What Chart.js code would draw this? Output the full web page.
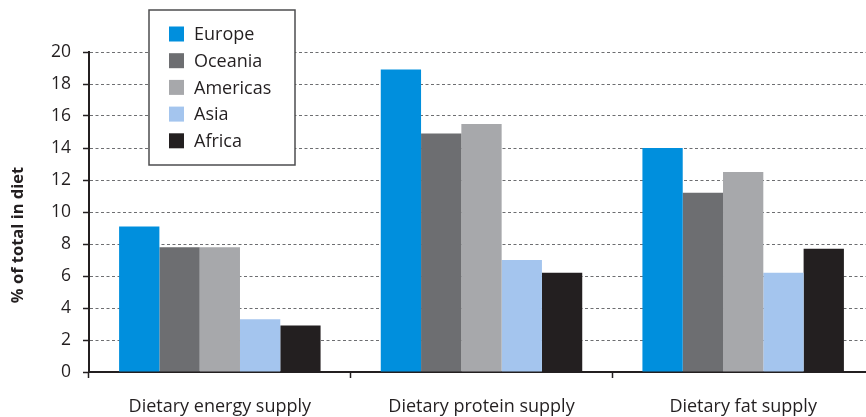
<!DOCTYPE html>
<html>
<head>
<meta charset="utf-8">
<script src="https://cdn.jsdelivr.net/npm/chart.js@4"></script>
<style>
html, body { margin: 0; padding: 0; background: #fff; overflow: hidden; }
#wrap { width: 876px; height: 417px; }
</style>
</head>
<body>
<div id="wrap"><canvas id="dietChart"></canvas></div>
<script>
const categories = ['Dietary energy supply', 'Dietary protein supply', 'Dietary fat supply'];
const regions = ['Europe', 'Oceania', 'Americas', 'Asia', 'Africa'];
const europe = [9.1, 18.9, 14.0];
const oceania = [7.8, 14.9, 11.2];
const americas = [7.8, 15.5, 12.5];
const asia = [3.3, 7.0, 6.2];
const africa = [2.9, 6.2, 7.7];
const regionColors = ['#008fdd', '#6d6e71', '#a7a8ab', '#a4c5ee', '#231f20'];

const seriesValues = [europe, oceania, americas, asia, africa];
const FONT = '"Open Sans", "Noto Sans", sans-serif';

// legend in a framed box, drawn over the grid
const boxLegend = {
    id: 'boxLegend',
    afterDraw(chart) {
        const ctx = chart.ctx;
        ctx.save();
        ctx.fillStyle = '#fff';
        ctx.fillRect(149, 10, 146, 155);
        ctx.strokeStyle = '#4d4d4f';
        ctx.lineWidth = 1.5;
        ctx.strokeRect(149, 10, 146, 155);
        ctx.font = '18px ' + FONT;
        ctx.textBaseline = 'middle';
        chart.data.datasets.forEach((ds, i) => {
            const cy = 34 + i * 26.7;
            ctx.fillStyle = ds.backgroundColor;
            ctx.fillRect(169, cy - 7.5, 15, 15);
            ctx.fillStyle = '#231f20';
            ctx.fillText(ds.label, 194, cy + 1);
        });
        // y axis title
        ctx.translate(18, 235);
        ctx.rotate(-Math.PI / 2);
        ctx.textAlign = 'center';
        ctx.font = 'bold 16.5px ' + FONT;
        ctx.fillText('% of total in diet', 0, 0);
        ctx.restore();
    }
};

new Chart(document.getElementById('dietChart'), {
    type: 'bar',
    data: {
        labels: categories,
        datasets: regions.map((r, i) => ({
            label: r,
            data: seriesValues[i],
            backgroundColor: regionColors[i],
            borderWidth: 0,
            barPercentage: 1.0,
            categoryPercentage: 0.77
        }))
    },
    options: {
        responsive: true,
        maintainAspectRatio: false,
        animation: false,
        layout: { padding: { top: 52, left: 0, right: 2, bottom: 0 } },
        plugins: {
            legend: { display: false },
            tooltip: { enabled: false }
        },
        scales: {
            x: {
                grid: {
                    offset: true,
                    drawOnChartArea: false,
                    drawTicks: true,
                    tickLength: 6,
                    tickColor: '#231f20',
                    tickWidth: 1.5
                },
                border: { display: true, color: '#231f20', width: 2 },
                ticks: {
                    color: '#231f20',
                    font: { family: FONT, size: 18 },
                    padding: 18
                },
                afterFit(scale) { scale.height = 45; }
            },
            y: {
                min: 0,
                max: 20,
                ticks: {
                    stepSize: 2,
                    color: '#231f20',
                    font: { family: FONT, size: 17.5 },
                    padding: 12
                },
                grid: {
                    color: '#6d6e71',
                    lineWidth: 1,
                    tickLength: 6,
                    tickColor: '#231f20',
                    tickWidth: 1.5,
                    tickBorderDash: []
                },
                border: { display: true, color: '#231f20', width: 2, dash: [3, 2.5] },
                afterFit(scale) { scale.width = 89; }
            }
        }
    },
    plugins: [boxLegend]
});
</script>
</body>
</html>
